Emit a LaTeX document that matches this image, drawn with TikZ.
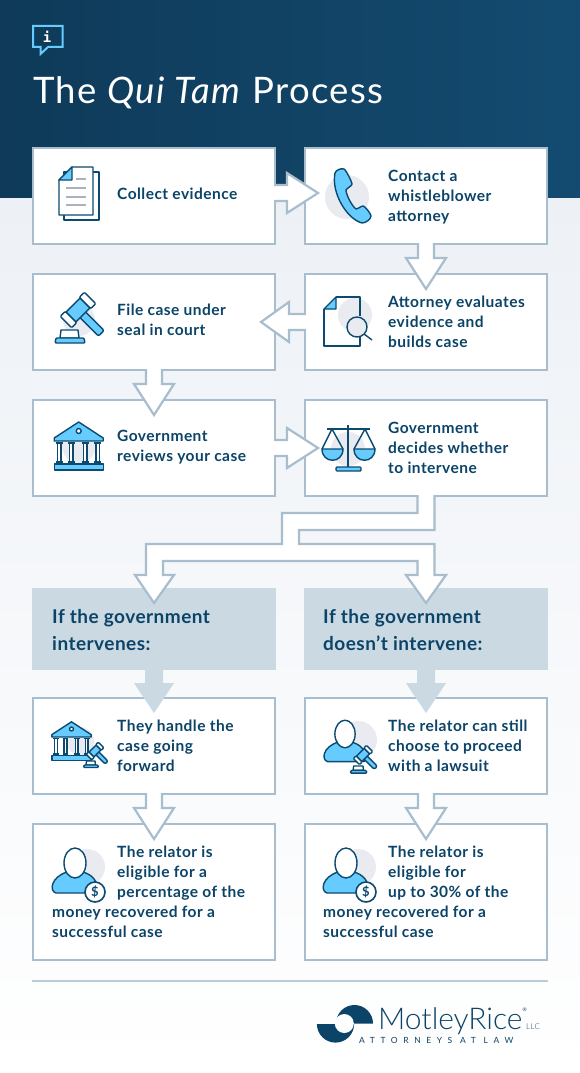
\documentclass[tikz,border=0pt]{standalone}
\usepackage{fontspec}
\setmainfont{Lato}
\newfontfamily\logofont{Lato Light}
\newfontfamily\infofont{DejaVu Sans Mono}
\usepackage{xcolor}
\usetikzlibrary{positioning, calc}
\definecolor{headleft}{HTML}{0f3a59}
\definecolor{headright}{HTML}{134b70}
\definecolor{pagetop}{HTML}{edf1f6}
\definecolor{boxline}{HTML}{a8bdcd}
\definecolor{hdrfill}{HTML}{cbd9e2}
\definecolor{inktext}{HTML}{0b4468}
\definecolor{icondark}{HTML}{0c4a70}
\definecolor{iconblue}{HTML}{66ccff}
\definecolor{halofill}{HTML}{e9ebf0}
\definecolor{rowline}{HTML}{a9b2c2}
\definecolor{footline}{HTML}{bccbd8}
\newcommand{\flowdown}[2]{%
  \draw[flow] ($(#1.south)+(-8,-1)$) -- ++(0,15) -- ++(-12,0) -- ($(#2.north)+(0,15)$) -- ($(#1.south)+(20,14)$) -- ++(-12,0) -- ($(#1.south)+(8,-1)$);}
\newcommand{\flowright}[3]{%
  \draw[flow] ($(#1.east)+(-1,-8+#3)$) -- ++(13,0) -- ++(0,-12) -- ($(#2.west)+(13,#3)$) -- ($(#1.east)+(12,20+#3)$) -- ++(0,-12) -- ($(#1.east)+(-1,8+#3)$);}
\newcommand{\flowleft}[2]{%
  \draw[flow] ($(#1.west)+(1,-8)$) -- ++(-17,0) -- ++(0,-12) -- ($(#2.east)+(-14,0)$) -- ($(#1.west)+(-16,20)$) -- ++(0,-12) -- ($(#1.west)+(1,8)$);}
\newcommand{\flowsolid}[2]{%
  \fill[hdrfill] ($(#1.south)+(-9,0)$) -- ++(0,13) -- ++(-11,0) -- ($(#2.north)+(0,15)$) -- ($(#1.south)+(20,13)$) -- ++(-11,0) -- ($(#1.south)+(9,0)$) -- cycle;}
\tikzset{
  icn/.style={draw=icondark, line width=1.4pt, line join=round},
  gavel/.pic={
    \draw[icn,fill=white] (-17,20) -- (-15,20) -- (0,20) -- (1,28) -- (-18,28) -- cycle;
    \draw[icn,fill=iconblue,rounded corners=1pt] (-23,33) -- (-22,28) -- (6,28) -- (7,33) -- cycle;
    \begin{scope}[rotate=45]
      \draw[icn,fill=iconblue,rounded corners=2pt] (-4,5) rectangle (4,33);
      \draw[icn,fill=iconblue] (-10,-7) rectangle (10,7);
      \draw[icn,fill=white,rounded corners=1pt] (-17,-8) rectangle (-10,8);
      \draw[icn,fill=white,rounded corners=1pt] (10,-8) rectangle (17,8);
    \end{scope}},
  bank/.pic={
    \draw[icn,fill=iconblue] (-24.5,-8) -- (0,-24) -- (24.5,-8) -- (24.5,-5) -- (-24.5,-5) -- cycle;
    \draw[icn,fill=white] (0,-15) circle (2.5pt);
    \foreach \c in {-19.5,-7.5,6.5,19}{
      \draw[icn,fill=white] ({\c-1.7},-3) rectangle ({\c+1.7},16);
      \draw[icn] ({\c-3.5},-3) -- ({\c+3.5},-3);
      \draw[icn] ({\c-3.5},16) -- ({\c+3.5},16);}
    \draw[icn,fill=iconblue] (-24.5,18) rectangle (24.5,24);},
  person/.pic={
    \draw[icn,fill=iconblue] (-19,30) .. controls (-26,28) and (-24,14) .. (-8,9) -- (8,9) .. controls (18,12) and (22,18) .. (23,27) .. controls (23,30) and (20,30) .. (18,30) -- cycle;
    \draw[icn,fill=white] (0,0) ellipse (11pt and 15pt);},
  coin/.pic={
    \draw[icn,line width=1.6pt,fill=white] (0,0) circle (10pt);
    \node[text=icondark,font=\fontsize{13}{13}\selectfont\bfseries,inner sep=0] (dollar) at (0,0) {\$};},
}
\begin{document}
\begin{tikzpicture}[x=1pt,y=-1pt,node distance=30pt,
  flow/.style={draw=boxline, line width=2.2pt, fill=white, line join=miter},
  bx/.style={draw=boxline, line width=2.4pt, fill=white, minimum width=242pt, minimum height=96pt, inner sep=0pt, outer sep=0pt},
  hdr/.style={fill=hdrfill, minimum width=244pt, minimum height=82pt, inner sep=0pt, outer sep=0pt},
  lbl/.style={anchor=north west, align=left, inner sep=0pt, text=inktext, font=\fontsize{15.5}{20}\selectfont\bfseries\addfontfeature{LetterSpace=3}, execute at begin node=\strut},
  hlbl/.style={anchor=north west, align=left, inner sep=0pt, text=inktext, font=\fontsize{19}{27}\selectfont\bfseries\addfontfeature{LetterSpace=2.5}, execute at begin node=\strut},
  halo/.style={fill=halofill}]
\useasboundingbox (0,0) rectangle (580,1073);
\shade[top color=pagetop, bottom color=white] (0,197) rectangle (580,1073);
\shade[left color=headleft, right color=headright] (0,0) rectangle (580,197);

\draw[draw=iconblue, line width=2pt, miter limit=10] (33,26) -- (62.5,26) -- (62.5,47) -- (48,47) -- (40.5,54) -- (40.5,47) -- (33,47) -- cycle;
\node[text=white, inner sep=0pt, font=\fontsize{14}{14}\selectfont\infofont\bfseries] (infoi) at (47,36.5) {i};
\node[anchor=base west, inner sep=0pt, text=white, font=\fontsize{36.5}{36.5}\selectfont\addfontfeature{LetterSpace=3.6}] (title) at (33,103) {The \textit{Qui Tam} Process};

\node[bx] (collect) at (154,196) {};
\node[bx,right=of collect] (contact) {};
\node[bx,below=of contact] (evaluate) {};
\node[bx,below=of collect] (file) {};
\node[bx,below=of file] (review) {};
\node[bx,below=of evaluate] (decide) {};
\node[hdr,below=92pt of review] (ifyes) {};
\node[hdr,below=92pt of decide] (ifno) {};
\node[bx,below=28pt of ifyes] (handle) {};
\node[bx,below=28pt of ifno] (proceed) {};
\node[bx,below=of handle,minimum height=136pt] (share) {};
\node[bx,below=of proceed,minimum height=136pt] (upto) {};

\flowright{collect}{contact}{-3}
\flowright{review}{decide}{0}
\flowleft{evaluate}{file}
\foreach \a/\b in {contact/evaluate,file/review,handle/share,proceed/upto}{
  \flowdown{\a}{\b}}
\foreach \a/\b in {ifyes/handle,ifno/proceed}{
  \flowsolid{\a}{\b}}
\draw[flow] ($(decide.south)+(-8.5,-1)$) -- ++(0,18) -- ++(-135.5,0) -- ++(0,31) -- ++(-136,0) -- ++(0,31) -- ++(-11,0) -- ($(ifyes.north)+(0,15)$) -- ($(ifyes.north)+(20,-13)$) -- ++(-11,0) -- ++(0,-14) -- ++(254.5,0) -- ++(0,14) -- ++(-11.5,0) -- ($(ifno.north)+(0,15)$) -- ($(ifno.north)+(20,-13)$) -- ++(-11.5,0) -- ++(0,-31) -- ++(-135.5,0) -- ++(0,-14) -- ++(135.5,0) -- ($(decide.south)+(8.5,-1)$);

\node[lbl] (collecttxt) at ($(collect.north west)+(84,37)$) {Collect evidence};
\node[lbl] (contacttxt) at ($(contact.north west)+(83,22)$) {Contact a\\whistleblower\\attorney};
\node[lbl] (filetxt) at ($(file.north west)+(84,29.5)$) {File case under\\seal in court};
\node[lbl] (evaluatetxt) at ($(evaluate.north west)+(83,22)$) {Attorney evaluates\\evidence and\\builds case};
\node[lbl] (reviewtxt) at ($(review.north west)+(84,29.5)$) {Government\\reviews your case};
\node[lbl] (decidetxt) at ($(decide.north west)+(83,22)$) {Government\\decides whether\\to intervene};
\node[hlbl] (ifyestxt) at ($(ifyes.north west)+(20,21)$) {If the government\\intervenes:};
\node[hlbl] (ifnotxt) at ($(ifno.north west)+(19,21)$) {If the government\\doesn’t intervene:};
\node[lbl] (handletxt) at ($(handle.north west)+(84,22)$) {They handle the\\case going\\forward};
\node[lbl] (proceedtxt) at ($(proceed.north west)+(83,22)$) {The relator can still\\choose to proceed\\with a lawsuit};
\node[lbl] (sharetxt) at ($(share.north west)+(19,22)$) {\hspace*{65pt}The relator is\\\hspace*{65pt}eligible for a\\\hspace*{65pt}percentage of the\\money recovered for a\\successful case};
\node[lbl] (uptotxt) at ($(upto.north west)+(18,22)$) {\hspace*{65pt}The relator is\\\hspace*{65pt}eligible for\\\hspace*{65pt}up to 30\% of the\\money recovered for a\\successful case};

% icons, row by row
\draw[icn,fill=white] (64,172) -- (99,172) -- (99,220) -- (64,220) -- cycle;
\draw[icn,fill=white] (72,167) -- (93,167) -- (93,215) -- (59,215) -- (59,180) -- cycle;
\draw[icn,fill=iconblue] (72,167) -- (72,180) -- (59,180) -- cycle;
\foreach \yy in {188,197,205}{
  \draw[rowline,line width=1.3pt] (66,\yy) -- (86,\yy);}
\draw[rowline,line width=1.3pt] (76,179) -- (86,179);

\fill[halo] (347,197) circle (22pt);
\draw[icn,fill=iconblue] (335,173) .. controls (336,170) and (341,168) .. (344,169) .. controls (346,170) and (352,182) .. (352,184) .. controls (352,186) and (347,188) .. (346,190) .. controls (346,194) and (351,205) .. (356,209) .. controls (358,209) and (361,206) .. (363,206) .. controls (365,206) and (371,214) .. (371,216) .. controls (371,219) and (366,223) .. (362,223) .. controls (347,219) and (331,193) .. (335,173) -- cycle;

\fill[halo] (79,320) circle (16pt);
\pic at (78,310) {gavel};

\fill[halo] (355,315) circle (17pt);
\draw[icn] (336,297) -- (360,297) -- (360,316);
\draw[icn] (360,337) -- (360,346) -- (324,346) -- (324,309);
\draw[icn,fill=iconblue] (336,297) -- (336,309) -- (324,309) -- cycle;
\draw[icn] (364,334) -- (372,340);
\draw[icn,fill=halofill] (357,327) circle (10pt);

\fill[halo] (79,446) circle (17pt);
\pic at (78.7,446) {bank};

\fill[halo] (348,449) circle (17pt);
\draw[icn] (348,425) -- (348,467);
\draw[icn] (327,429) -- (370,429);
\draw[icn] (322,449) -- (332,429) -- (343,449);
\draw[icn] (354,449) -- (365,429) -- (375,449);
\draw[icn,fill=iconblue] (322,449) .. controls (322,464) and (343,464) .. (343,449) -- cycle;
\draw[icn,fill=iconblue] (354,449) .. controls (354,464) and (375,464) .. (375,449) -- cycle;
\draw[icn,fill=iconblue,rounded corners=1pt] (336,467) rectangle (361,471);

\fill[halo] (80,741) circle (14pt);
\pic[scale=.8] at (71.5,741) {bank};
\pic[scale=.5] at (95,751) {gavel};

\fill[halo] (358,740) circle (19pt);
\pic[scale=.92] at (345,734) {person};
\pic[scale=.55] at (363,755) {gavel};

\fill[halo] (87,867) circle (18pt);
\pic at (75,863) {person};
\pic at (95,892) {coin};

\fill[halo] (358,867) circle (18pt);
\pic at (346,863) {person};
\pic at (366,892) {coin};

\draw[footline,line width=1.6pt] (32,981) -- (548,981);
\fill[inktext] (335.5,1024) -- ++(18.6,0) arc[start angle=0,end angle=-180,radius=18.6pt] -- cycle;
\fill[inktext] (336,1023.5) -- ++(37,0) arc[start angle=0,end angle=180,radius=18.5pt] -- cycle;
\fill[white] (344.3,1023.5) circle (9.5pt);
\node[anchor=base west,inner sep=0pt,text=inktext,font=\fontsize{30}{30}\logofont] (logoname) at (378,1029) {MotleyRice};
\node[anchor=base west,inner sep=0pt,text=inktext,font=\fontsize{5}{5}\selectfont] (logoreg) at (522.5,1011) {®};
\node[anchor=base west,inner sep=0pt,text=inktext,font=\fontsize{8}{8}\logofont] (logollc) at (526,1029) {\addfontfeature{LetterSpace=4}LLC};
\node[anchor=base west,inner sep=0pt,text=inktext,font=\fontsize{8.5}{9}\selectfont] (logotag) at (359,1043.5) {\addfontfeature{LetterSpace=66}ATTORNEYS AT LAW};
\end{tikzpicture}
\end{document}
